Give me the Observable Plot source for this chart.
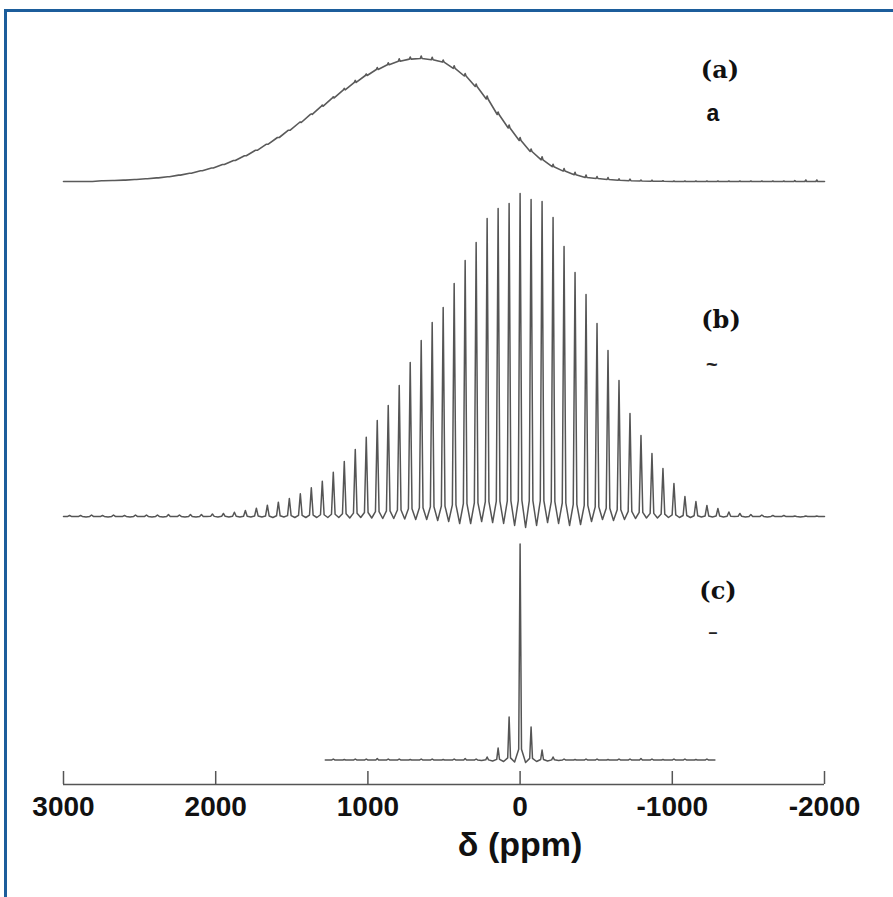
<!DOCTYPE html>
<html><head><meta charset="utf-8">
<script src="https://cdn.jsdelivr.net/npm/d3@7"></script>
<script src="https://cdn.jsdelivr.net/npm/@observablehq/plot@0.6"></script>
<style>
html,body{margin:0;padding:0;background:#fff;overflow:hidden;width:893px;height:897px;}
#frame{position:absolute;left:4px;top:9px;width:1000px;height:1000px;border-top:3px solid #1c5d9b;border-left:3px solid #1c5d9b;pointer-events:none;}
#chart{position:absolute;left:0;top:0;}
</style></head><body>
<div id="chart"></div><div id="frame"></div>
<script>
// ---- data ----
const xTicks = [3000, 2000, 1000, 0, -1000, -2000];
const xLabel = "δ (ppm)";
const panelLabels = ["(a)", "(b)", "(c)"];
const sidebandSpacing = 72.2; // ppm between spinning sidebands

// sideband orders for traces (a) and (b): 41 ... -27
const abOrders = d3.range(41, -28, -1);

// trace (a): broad envelope height at each sideband order, and small spikes on it
const aHump = [0,0,0,0.7,1.0,1.4,2.0,2.7,3.6,4.8,6.4,8.3,10.7,13.5,17.0,
  21,25.8,31.2,37.3,44,51.3,59,67.1,75.4,83.6,91.6,99.1,106,112,116.7,120.3,122.4,123,121.8,119.4,113.2,105.5,95,82.5,67,53.5,41,
  30,21.7,14.8,10.4,6.8,4,3,2,1.2,0.8,0.5,0.3,0.2,0,0,0,0,0,0,0,0,0,0,0,0,0,0];
const aSpike = [0,0,0,0,0,0,0,0,0,0,0,0,0,0,0,0,0,0,0,0,0,
  0.5,0.5,1,1,1.5,
  2,1.5,2,2,2.5,2,2.5,2.5,2,2.5,2.5,2.5,3,2.5,3,3,2.5,3,2.5,2.5,2.5,2.5,2,2,
  1.5,1.5,1,1,0.5,0.5,0.5,0.5,0.5,0.5,0.5,0.5,0.5,0.5,0.5,0.5,1,1.5,1.5];

// trace (b): sideband peak heights and the valleys between neighbours
const bPeaks = [1,1,1.5,1,1.5,1,1.5,1.5,1.5,2,1.5,2,2,2.5,3,
  4.3,6,8.3,11.3,14.3,18,22.7,28.7,35.3,44.3,55,67,79.3,96,111,131,154,176,194,209,233,256,274,298,308,313,323,
  317,315,299,270,244,222,193,166,136,103,81,63,48,33,20,15,11,8,4.5,3,2,1.5,1,1,0.5,0.5,0.5];
const bValleys = [0,-0.5,0,-0.5,0,-0.5,0,-0.5,-0.5,0,-0.5,-0.5,0,-0.5,-0.5,-0.5,-0.5,-0.5,-1,-0.5,-1,-1,-1,-1,-1,-1.5,-1,-1.5,
  -2,-2,-2.5,-3,-3,-4,-5,-7,-7,-5,-6,-7,-9,-11,-9,-6,-7,-9,-8,-5,-3,-4,-3,-2,-1.5,-1.5,
  -1,-1,-1,-0.5,-0.5,-0.5,0,-0.5,0,-0.5,0,0,-0.5,0];

// trace (c): orders 17 ... -17, range ±1280 ppm
const cOrders = d3.range(17, -18, -1);
const cRange = [1280, -1280];
const cPeaks = [1,0.5,1,1,1.5,1,1,0.5,1,1,0.5,1,1.5,1,
  3,12,43,216,33,10,3,
  1,0.5,1,1,0.5,1,1,1.5,1,0.5,1,1,0.5,1];
const cValleys = [0,0,0,0,0,0,0,0,0,0,0,0,0,-0.5,
  -1,-1.5,-2,-2.5,-1.5,-1,-0.5,
  0,0,0,0,0,0,0,0,0,0,0,0,0];

// ---- layout ----
const W = 893, H = 897, axisY = 784;
const offA = 603, offB = 268, offC = 24.5; // baselines (plot units = px above axis)
const pxPpm = 5000 / 761;

function peakTrace(orders, peaks, valleys, off, shPx, frac, start, end) {
  const sh = shPx * pxPpm, pts = [{x: start, y: off}];
  orders.forEach((n, i) => {
    const c = n * sidebandSpacing, h = peaks[i];
    pts.push({x: c + sh, y: off + frac * h});
    pts.push({x: c, y: off + h});
    pts.push({x: c - sh, y: off + frac * h});
    if (i < valleys.length) pts.push({x: c - sidebandSpacing / 2, y: off + valleys[i]});
  });
  pts.push({x: end, y: off});
  return pts;
}
function humpTrace(orders, hump, spike, off, shPx, start, end) {
  const sh = shPx * pxPpm, pts = [{x: start, y: off}];
  orders.forEach((n, i) => {
    const c = n * sidebandSpacing;
    pts.push({x: c + sh, y: off + hump[i]});
    pts.push({x: c, y: off + hump[i] + spike[i]});
    pts.push({x: c - sh, y: off + hump[i]});
  });
  pts.push({x: end, y: off});
  return pts;
}

const traceA = humpTrace(abOrders, aHump, aSpike, offA, 0.9, 3000, -2000);
const traceB = peakTrace(abOrders, bPeaks, bValleys, offB, 1.8, 0.05, 3000, -2000);
const traceC = peakTrace(cOrders, cPeaks, cValleys, offC, 1.4, 0.05, cRange[0], cRange[1]);

const lineStyle = {x: "x", y: "y", stroke: "#555", strokeWidth: 1.5, curve: "linear"};

const chart = Plot.plot({
  width: W, height: H,
  marginLeft: 63, marginRight: 69, marginTop: 0, marginBottom: H - axisY,
  style: {fontFamily: "'Liberation Sans', Arial, sans-serif", background: "transparent"},
  x: {domain: [3000, -2000]},
  y: {domain: [0, axisY], axis: null},
  marks: [
    Plot.line(traceA, {...lineStyle, stroke: "#5a5a5a", strokeWidth: 1.6}),
    Plot.line(traceB, lineStyle),
    Plot.line(traceC, lineStyle),
    Plot.ruleY([0], {stroke: "#555", strokeWidth: 1.5}),
    Plot.ruleX(xTicks, {x: d => d, y1: 0, y2: 13, stroke: "#555", strokeWidth: 1.5}),
    Plot.axisX({ticks: xTicks, tickSize: 0, tickPadding: 12, fontSize: 28, fontWeight: "bold",
      tickFormat: d => String(d), label: null, fill: "#111"}),
    Plot.text([xLabel], {x: 0, y: -61, text: d => d, fontSize: 34, fontWeight: "bold", fill: "#111",
      textAnchor: "middle", lineAnchor: "middle"}),
    Plot.text([panelLabels[0]], {x: -1313, y: 714, text: d => d, fontSize: 24, fontWeight: "bold",
      fontFamily: "'DejaVu Serif', serif", fill: "#111", lineAnchor: "middle"}),
    Plot.text([panelLabels[1]], {x: -1320, y: 464, text: d => d, fontSize: 24, fontWeight: "bold",
      fontFamily: "'DejaVu Serif', serif", fill: "#111", lineAnchor: "middle"}),
    Plot.text([panelLabels[2]], {x: -1300, y: 193, text: d => d, fontSize: 24, fontWeight: "bold",
      fontFamily: "'DejaVu Serif', serif", fill: "#111", lineAnchor: "middle"}),
    Plot.text(["a"], {x: -1267, y: 671, text: d => d, fontSize: 23, fontWeight: "bold", fill: "#111", lineAnchor: "middle"}),
    Plot.text(["~"], {x: -1260, y: 420, text: d => d, fontSize: 20, fontWeight: "bold", fill: "#222", lineAnchor: "middle"}),
    Plot.text(["–"], {x: -1267, y: 152, text: d => d, fontSize: 16, fontWeight: "bold", fill: "#222", lineAnchor: "middle"})
  ]
});
document.getElementById("chart").appendChild(chart);
</script>
</body></html>
